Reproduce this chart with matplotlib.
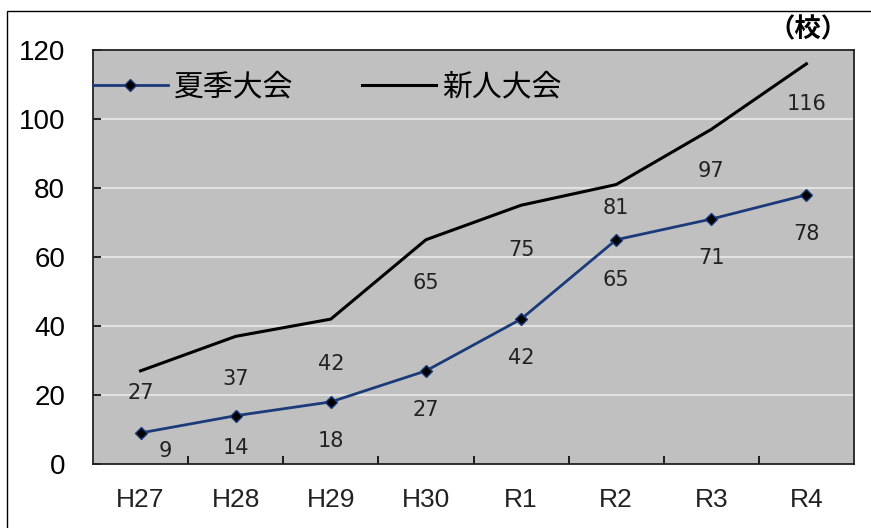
import matplotlib
matplotlib.use("Agg")
import matplotlib.pyplot as plt
from matplotlib.lines import Line2D
from matplotlib.patches import Rectangle

categories = ["H27", "H28", "H29", "H30", "R1", "R2", "R3", "R4"]
summer = [9, 14, 18, 27, 42, 65, 71, 78]
rookie = [27, 37, 42, 65, 75, 81, 97, 116]
yticks = [0, 20, 40, 60, 80, 100, 120]

# label offsets (points) - style only
rookie_off = [(0, -16), (0, -31), (0, -32), (0, -31), (0, -32), (0, -17), (0, -30), (0, -29)]
summer_off = [(18, -13), (0, -23), (0, -28), (0, -28), (0, -28), (0, -29), (0, -28), (0, -28)]

fig = plt.figure(figsize=(8.71, 5.28), dpi=100)
fig.patches.append(Rectangle((7 / 871, -0.1), 1.2, 1 - 11 / 528 + 0.1, transform=fig.transFigure,
                             fill=False, edgecolor="black", linewidth=1.0))
ax = fig.add_axes([93 / 871, 64 / 528, 761 / 871, 414 / 528])
ax.set_facecolor("#c0c0c0")
x = list(range(len(categories)))
ax.set_xlim(-0.5, len(categories) - 0.5)
ax.set_ylim(0, 120)
for y in yticks[1:-1]:
    ax.axhline(y, color="#e2e2e2", linewidth=1.5, zorder=1)

ax.plot(x, rookie, color="black", linewidth=2.2, zorder=3)
ax.plot(x, summer, color="#1a3a7a", linewidth=2, marker="D", markersize=6,
        markerfacecolor="black", markeredgecolor="#1a3a7a", markeredgewidth=1, zorder=4)

for i, v in enumerate(rookie):
    ax.annotate(str(v), (x[i], v), xytext=rookie_off[i], textcoords="offset points",
                ha="center", va="center", fontsize=15, family="DejaVu Sans", color="#222222")
for i, v in enumerate(summer):
    ax.annotate(str(v), (x[i], v), xytext=summer_off[i], textcoords="offset points",
                ha="center", va="center", fontsize=15, family="DejaVu Sans", color="#222222")

ax.set_yticks(yticks)
ax.set_yticklabels([str(t) for t in yticks], family="Liberation Sans", fontsize=20)
ax.set_xticks([i + 0.5 for i in x[:-1]])
ax.set_xticklabels([])
ax.set_xticks(x, minor=True)
ax.set_xticklabels(categories, minor=True, family="Liberation Sans", fontsize=19, color="#222222")
ax.tick_params(axis="x", which="major", direction="in", length=6, width=1.2)
ax.tick_params(axis="x", which="minor", length=0, pad=17)
ax.tick_params(axis="y", direction="in", length=6, width=1.2, pad=20)
for s in ax.spines.values():
    s.set_linewidth(1.3)
    s.set_color("#222222")

handles = [Line2D([], [], color="#1a3a7a", linewidth=2, marker="D", markersize=6,
                  markerfacecolor="black", markeredgecolor="#1a3a7a"),
           Line2D([], [], color="black", linewidth=2.2)]
leg = ax.legend(handles, ["夏季大会", "新人大会"], loc="center left", ncol=2, frameon=False,
                prop={"family": ["Noto Sans CJK JP", "DejaVu Sans"], "size": 21.5},
                bbox_to_anchor=(0.0, 0.91), handlelength=2.5, handletextpad=0.2,
                columnspacing=2.3, borderaxespad=0, borderpad=0)

fig.text(848 / 871, 1 - 30 / 528, "（校）", ha="right", va="center",
         family=["Noto Sans CJK JP", "DejaVu Sans"], fontsize=19, fontweight="bold")

fig.savefig("out.png", dpi=100)
